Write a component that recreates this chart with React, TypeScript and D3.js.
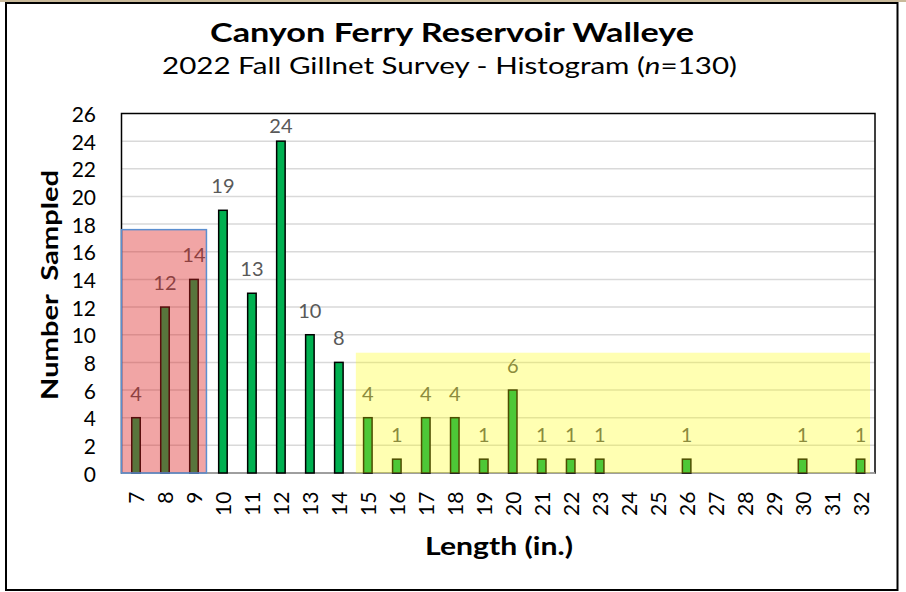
import React from "react";
import * as d3 from "d3";

const lengths = ["7","8","9","10","11","12","13","14","15","16","17","18","19","20","21","22","23","24","25","26","27","28","29","30","31","32"];
const counts = [4,12,14,19,13,24,10,8,4,1,4,4,1,6,1,1,1,0,0,1,0,0,0,1,0,1];
const yTicks = [0,2,4,6,8,10,12,14,16,18,20,22,24,26];
const redZone = { from: "7", to: "9", top: 17.6 };
const yellowZone = { from: "15", to: "32", top: 8.7 };

const W = 906, H = 592;
const plot = { left: 121.5, right: 875, top: 113.5, bottom: 473 };
const FONT = "Lato, 'Open Sans', sans-serif";

export default function App() {
  const x = d3.scaleBand<string>().domain(lengths).range([plot.left, plot.right]).padding(0);
  const y = d3.scaleLinear().domain([0, 26]).range([plot.bottom, plot.top]);
  const bw = 8.5;
  const cx = (c: string) => (x(c) as number) + x.bandwidth() / 2;

  const redX0 = x(redZone.from) as number;
  const redX1 = (x(redZone.to) as number) + x.bandwidth() - 2;
  const yelX0 = (x(yellowZone.from) as number) + 2.5;
  const yelX1 = (x(yellowZone.to) as number) + x.bandwidth() - 5;

  return (
    <svg width={W} height={H} style={{ position: "absolute", left: 0, top: 0, background: "#fff" }} fontFamily={FONT}>
      <rect x={0} y={0} width={W} height={H} fill="#fff" />
      <rect x={0} y={0} width={W} height={2} fill="#c9b99a" />
      <rect x={6} y={3} width={891.5} height={587} fill="none" stroke="#000" strokeWidth={2} />

      {/* titles */}
      <text x={452} y={41.5} textAnchor="middle" fontSize={27} fontWeight={700} fill="#000" textLength={484} lengthAdjust="spacingAndGlyphs">
        Canyon Ferry Reservoir Walleye
      </text>
      <text x={449.5} y={73.5} textAnchor="middle" fontSize={24} fill="#000" textLength={575} lengthAdjust="spacingAndGlyphs">
        2022 Fall Gillnet Survey - Histogram (<tspan fontStyle="italic">n</tspan>=130)
      </text>

      {/* gridlines */}
      {yTicks.filter(t => t > 0 && t < 26).map(t => (
        <line key={"g" + t} x1={plot.left} x2={plot.right} y1={y(t)} y2={y(t)} stroke="#d9d9d9" strokeWidth={1.5} />
      ))}

      {/* plot border */}
      <rect x={plot.left} y={plot.top} width={plot.right - plot.left} height={plot.bottom - plot.top} fill="none" stroke="#000" strokeWidth={1.5} />
      <line x1={plot.left} x2={plot.right} y1={plot.bottom} y2={plot.bottom} stroke="#bfbfbf" strokeWidth={1.5} />

      {/* bars */}
      {counts.map((v, i) => v > 0 ? (
        <rect key={"b" + i} x={cx(lengths[i]) - bw / 2} y={y(v)} width={bw} height={y(0) - y(v)} fill="#00b050" stroke="#000" strokeWidth={1.5} />
      ) : null)}

      {/* data labels */}
      {counts.map((v, i) => v > 0 ? (
        <text key={"l" + i} x={cx(lengths[i])} y={Math.max(y(v) - 17, 133)} textAnchor="middle" fontSize={20} fill="#595959">
          {v}
        </text>
      ) : null)}

      {/* y ticks */}
      {yTicks.map(t => (
        <text key={"y" + t} x={96} y={y(t)} textAnchor="end" dominantBaseline="central" fontSize={21} fill="#000">
          {t}
        </text>
      ))}

      {/* x ticks */}
      {lengths.map(c => (
        <text key={"x" + c} transform={`translate(${cx(c)},491.5) rotate(-90)`} textAnchor="end" dominantBaseline="central" fontSize={21} fill="#000">
          {c}
        </text>
      ))}

      {/* axis titles */}
      <text x={499} y={555} textAnchor="middle" fontSize={25} fontWeight={700} fill="#000" textLength={148} lengthAdjust="spacingAndGlyphs">
        Length (in.)
      </text>
      <text transform="translate(58,285) rotate(-90)" textAnchor="middle" fontSize={23} fontWeight={700} fill="#000" textLength={230} lengthAdjust="spacingAndGlyphs" style={{ whiteSpace: "pre" }}>
        {"Number  Sampled"}
      </text>

      {/* overlays */}
      <rect x={redX0} y={y(redZone.top)} width={redX1 - redX0} height={y(0) - y(redZone.top)} fill="rgb(220,30,30)" fillOpacity={0.4} stroke="#5b8fd0" strokeWidth={1.5} />
      <rect x={yelX0} y={y(yellowZone.top)} width={yelX1 - yelX0} height={y(0) - y(yellowZone.top)} fill="rgb(255,255,0)" fillOpacity={0.3} />
    </svg>
  );
}
